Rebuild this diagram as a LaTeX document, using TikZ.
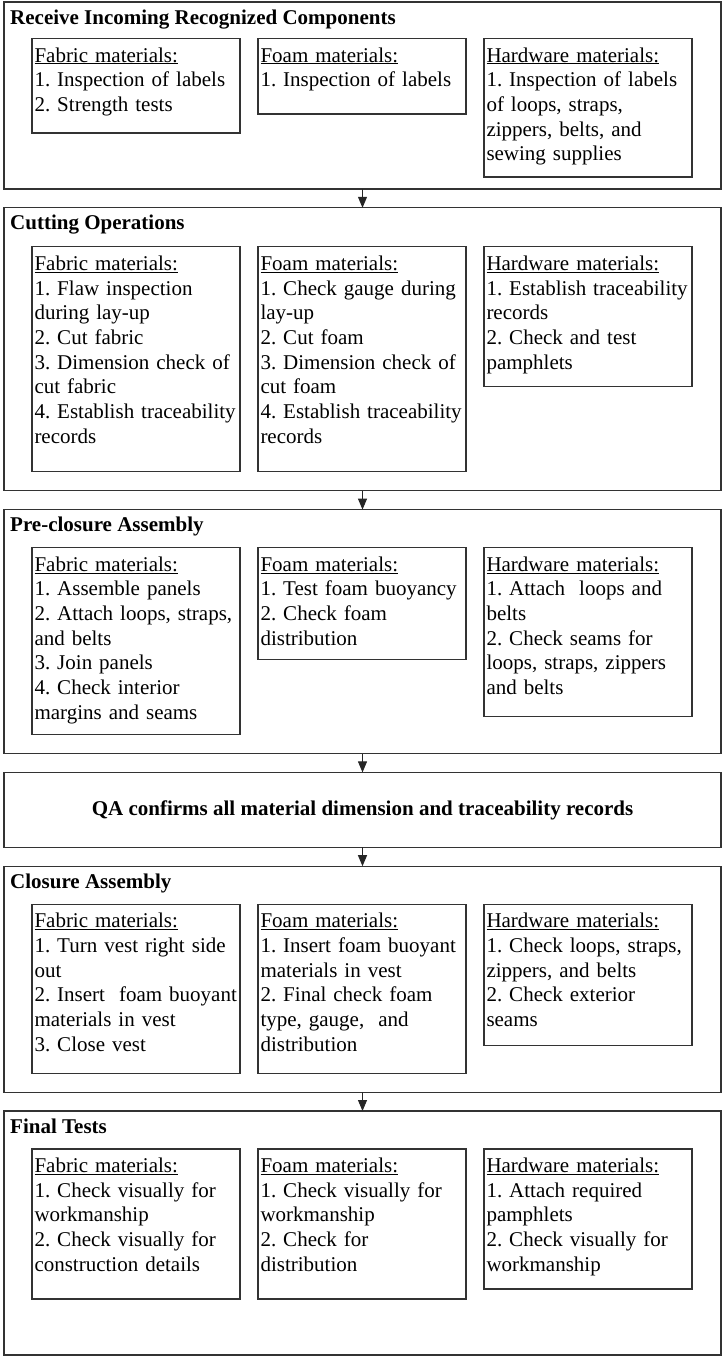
\documentclass[tikz,border=0pt]{standalone}
\usepackage{fontspec}
\setmainfont{Liberation Serif}
\usetikzlibrary{positioning, arrows.meta}

\newcommand{\matfont}{\frenchspacing\hyphenpenalty=10000\relax\fontsize{21pt}{24.7pt}\selectfont}

\begin{document}
\begin{tikzpicture}[
    node distance=18.8pt and 18pt,
    stagebox/.style={draw=black!80, line width=1.2pt, rectangle, minimum width=717pt, outer sep=0pt, inner sep=0pt},
    stagetitle/.style={inner sep=0pt, font=\bfseries\fontsize{21pt}{24.7pt}\selectfont},
    matbox/.style={draw=black!80, line width=1.2pt, rectangle, outer sep=0pt, text width=203pt, align=left, inner xsep=2.5pt, inner ysep=3pt, text height=20.5pt, font=\matfont},
    arrow/.style={line width=1pt, draw=black!85, -{Triangle[width=9pt,length=11pt]}}
]
\useasboundingbox (0,0) rectangle (723pt,-1357pt);

% Stages
\node[stagebox, minimum height=187pt, anchor=north] (recv) at (362.5pt,-2pt) {};
\node[stagebox, minimum height=283pt, below=of recv] (cut) {};
\node[stagebox, minimum height=244pt, below=of cut] (precl) {};
\node[stagebox, minimum height=75pt, below=of precl, font=\bfseries\fontsize{21pt}{24.7pt}\selectfont] (qa) {QA confirms all material dimension and traceability records};
\node[stagebox, minimum height=226pt, below=of qa] (closure) {};
\node[stagebox, minimum height=244pt, below=of closure] (final) {};

% Stage titles
\node[stagetitle, below right=22pt and 6pt of recv.north west, anchor=base west] (recvtitle) {Receive Incoming Recognized Components};
\node[stagetitle, below right=22pt and 6pt of cut.north west, anchor=base west] (cuttitle) {Cutting Operations};
\node[stagetitle, below right=22pt and 6pt of precl.north west, anchor=base west] (precltitle) {Pre-closure Assembly};
\node[stagetitle, below right=22pt and 6pt of closure.north west, anchor=base west] (closuretitle) {Closure Assembly};
\node[stagetitle, below right=22pt and 6pt of final.north west, anchor=base west] (finaltitle) {Final Tests};

% Receive incoming
\node[matbox, text depth=68pt, below right=36.5pt and 28pt of recv.north west] (recvfab) {\underline{Fabric materials:}\\1. Inspection of labels\\2. Strength tests};
\node[matbox, text depth=49pt, right=18pt of recvfab.north east, anchor=north west] (recvfoam) {\underline{Foam materials:}\\1. Inspection of labels};
\node[matbox, text depth=112pt, right=18pt of recvfoam.north east, anchor=north west] (recvhard) {\underline{Hardware materials:}\\1. Inspection of labels\\of loops, straps,\\zippers, belts, and\\sewing supplies};

% Cutting
\node[matbox, text depth=198.5pt, below right=39pt and 28pt of cut.north west] (cutfab) {\underline{Fabric materials:}\\1. Flaw inspection\\during lay-up\\2. Cut fabric\\3. Dimension check of\\cut fabric\\4. Establish traceability\\records};
\node[matbox, text depth=198.5pt, right=18pt of cutfab.north east, anchor=north west] (cutfoam) {\underline{Foam materials:}\\1. Check gauge during\\lay-up\\2. Cut foam\\3. Dimension check of\\cut foam\\4. Establish traceability\\records};
\node[matbox, text depth=113.5pt, right=18pt of cutfoam.north east, anchor=north west] (cuthard) {\underline{Hardware materials:}\\1. Establish traceability\\records\\2. Check and test\\pamphlets};

% Pre-closure
\node[matbox, text depth=160.5pt, below right=38pt and 28pt of precl.north west] (preclfab) {\underline{Fabric materials:}\\1. Assemble panels\\2. Attach loops, straps,\\and belts\\3. Join panels\\4. Check interior\\margins and seams};
\node[matbox, text depth=85.5pt, right=18pt of preclfab.north east, anchor=north west] (preclfoam) {\underline{Foam materials:}\\1. Test foam buoyancy\\2. Check foam\\distribution};
\node[matbox, text depth=142.5pt, right=18pt of preclfoam.north east, anchor=north west] (preclhard) {\underline{Hardware materials:}\\1. Attach~ loops and\\belts\\2. Check seams for\\loops, straps, zippers\\and belts};

% Closure
\node[matbox, text depth=142.5pt, below right=38pt and 28pt of closure.north west] (closurefab) {\underline{Fabric materials:}\\1. Turn vest right side\\out\\2. Insert~ foam buoyant\\materials in vest\\3. Close vest};
\node[matbox, text depth=142.5pt, right=18pt of closurefab.north east, anchor=north west] (closurefoam) {\underline{Foam materials:}\\1. Insert foam buoyant\\materials in vest\\2. Final check foam\\type, gauge,~ and\\distribution};
\node[matbox, text depth=114.5pt, right=18pt of closurefoam.north east, anchor=north west] (closurehard) {\underline{Hardware materials:}\\1. Check loops, straps,\\zippers, and belts\\2. Check exterior\\seams};

% Final tests
\node[matbox, text depth=123.5pt, below right=38pt and 28pt of final.north west] (finalfab) {\underline{Fabric materials:}\\1. Check visually for\\workmanship\\2. Check visually for\\construction details};
\node[matbox, text depth=123.5pt, right=18pt of finalfab.north east, anchor=north west] (finalfoam) {\underline{Foam materials:}\\1. Check visually for\\workmanship\\2. Check for\\distribution};
\node[matbox, text depth=113.5pt, right=18pt of finalfoam.north east, anchor=north west] (finalhard) {\underline{Hardware materials:}\\1. Attach required\\pamphlets\\2. Check visually for\\workmanship};

% Connections
\foreach \a/\b in {recv/cut, cut/precl, precl/qa, qa/closure, closure/final}
    \draw[arrow] (\a) -- (\b);

\end{tikzpicture}
\end{document}
